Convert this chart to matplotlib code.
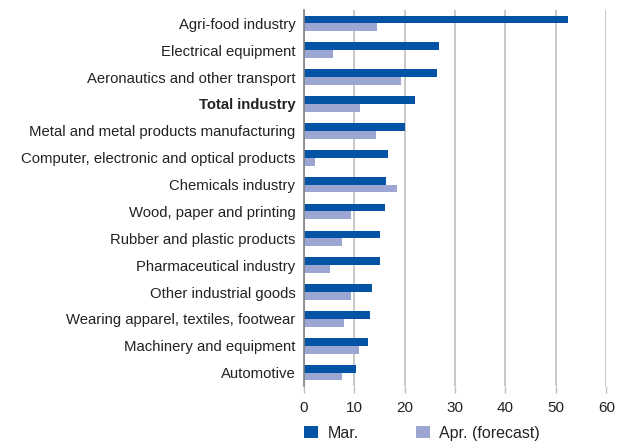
import numpy as np
import matplotlib.pyplot as plt
from matplotlib import font_manager

# Industry change figures, March vs April forecast
sectors = [
    'Agri-food industry',
    'Electrical equipment',
    'Aeronautics and other transport',
    'Total industry',
    'Metal and metal products manufacturing',
    'Computer, electronic and optical products',
    'Chemicals industry',
    'Wood, paper and printing',
    'Rubber and plastic products',
    'Pharmaceutical industry',
    'Other industrial goods',
    'Wearing apparel, textiles, footwear',
    'Machinery and equipment',
    'Automotive',
]
mar = [52.4, 26.8, 26.4, 22.1, 20.1, 16.7, 16.3, 16.1, 15.1, 15.1, 13.6, 13.2, 12.8, 10.4]
apr = [14.5, 5.8, 19.3, 11.2, 14.3, 2.2, 18.5, 9.4, 7.6, 5.2, 9.4, 8.0, 11.0, 7.6]
xticks = [0, 10, 20, 30, 40, 50, 60]

names = {f.name for f in font_manager.fontManager.ttflist}
family = 'Liberation Sans Narrow' if 'Liberation Sans Narrow' in names else 'Liberation Sans'
plt.rcParams['font.family'] = [family, 'DejaVu Sans']

c_mar = '#0553a5'
c_apr = '#9ba6d3'

fig = plt.figure(figsize=(6.19, 4.46), dpi=100)
ax = fig.add_axes([0.4906, 0.1345, 0.4889, 0.8431])

y = np.arange(len(sectors))
h = 0.29
ax.barh(y - h / 2, mar, height=h, color=c_mar, label='Mar.', zorder=3)
ax.barh(y + h / 2, apr, height=h, color=c_apr, label='Apr. (forecast)', zorder=3)

ax.set_ylim(len(sectors) - 0.5, -0.5)
ax.set_xlim(0, 60)
ax.set_xticks(xticks)
ax.set_yticks(y)
ax.set_yticklabels(sectors, fontsize=10.7, color='#222222')
for lbl in ax.get_yticklabels():
    if lbl.get_text() == 'Total industry':
        lbl.set_fontweight('bold')
ax.tick_params(axis='y', length=0, pad=6)
ax.tick_params(axis='x', length=5, color='#bfbfbf', width=1, labelsize=11,
               labelcolor='#222222', pad=6)

ax.grid(axis='x', color='#bfbfbf', linewidth=1.2, zorder=0)
for s in ['top', 'right', 'bottom']:
    ax.spines[s].set_visible(False)
ax.spines['left'].set_color('#808080')
ax.spines['left'].set_linewidth(1.2)
ax.spines['left'].set_zorder(4)

ax.legend(loc='lower left', bbox_to_anchor=(0.4685, -0.02), bbox_transform=fig.transFigure,
          ncol=2, frameon=False, fontsize=11.5, handlelength=0.85, handleheight=0.85,
          handletextpad=0.6, columnspacing=3.6, labelcolor='#222222')

fig.savefig('out.png', dpi=100)
